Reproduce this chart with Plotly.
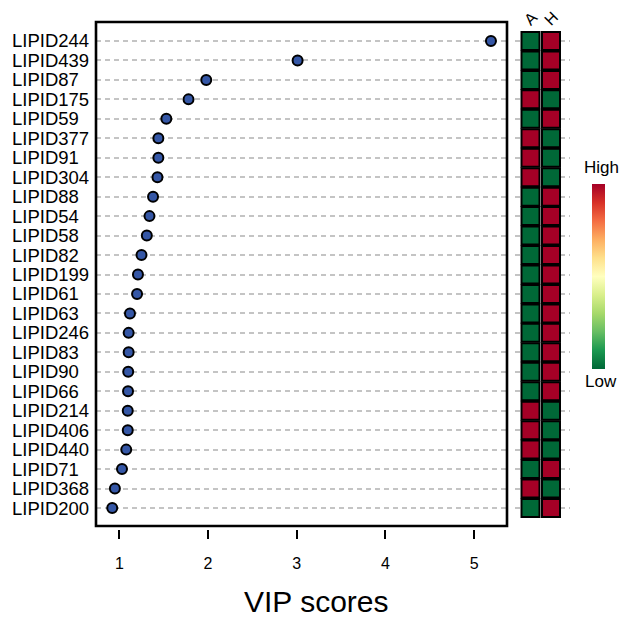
import plotly.graph_objects as go

# ---------------- data ----------------
lipids = ["LIPID244", "LIPID439", "LIPID87", "LIPID175", "LIPID59", "LIPID377",
          "LIPID91", "LIPID304", "LIPID88", "LIPID54", "LIPID58", "LIPID82",
          "LIPID199", "LIPID61", "LIPID63", "LIPID246", "LIPID83", "LIPID90",
          "LIPID66", "LIPID214", "LIPID406", "LIPID440", "LIPID71", "LIPID368",
          "LIPID200"]
vip_scores = [5.19, 3.01, 1.98, 1.78, 1.53, 1.44, 1.44, 1.43, 1.38, 1.34, 1.31,
              1.25, 1.21, 1.20, 1.12, 1.105, 1.105, 1.10, 1.098, 1.095, 1.095,
              1.078, 1.03, 0.95, 0.92]
groups = ["A", "H"]
# relative level per group (1 = high, 0 = low)
level_A = [0, 0, 0, 1, 0, 1, 1, 1, 0, 0, 0, 0, 0, 0, 0, 0, 0, 0, 0, 1, 1, 1, 0, 1, 0]
level_H = [1, 1, 1, 0, 1, 0, 0, 0, 1, 1, 1, 1, 1, 1, 1, 1, 1, 1, 1, 0, 0, 0, 1, 0, 1]
x_ticks = [1, 2, 3, 4, 5]

# ---------------- style ----------------
W, H = 619, 617
FONT = "Liberation Sans, Arial, Helvetica, sans-serif"
scale = ["#006837", "#1a9850", "#66bd63", "#a6d96a", "#d9ef8b", "#ffffbf",
         "#fee08b", "#fdae61", "#f46d43", "#d73027", "#a50026"]
colorscale = [[i / (len(scale) - 1), c] for i, c in enumerate(scale)]


def px_x(p):
    return p / W


def px_y(p):
    return 1 - p / H


fig = go.Figure()

# dot plot
fig.add_trace(go.Scatter(
    x=vip_scores, y=lipids, mode="markers",
    marker=dict(size=10, color="#3557a6", line=dict(color="black", width=2)),
    xaxis="x", yaxis="y", showlegend=False, hoverinfo="x+y",
))

# heat map cells
hx, hy, hz = [], [], []
for g, lv in zip(groups, [level_A, level_H]):
    for name, v in zip(lipids, lv):
        hx.append(g)
        hy.append(name)
        hz.append(v)
fig.add_trace(go.Scatter(
    x=hx, y=hy, mode="markers", xaxis="x2", yaxis="y", showlegend=False,
    marker=dict(symbol="square", size=18, color=hz, cmin=0, cmax=1,
                colorscale=colorscale, line=dict(color="black", width=2),
                showscale=True,
                colorbar=dict(thickness=13, thicknessmode="pixels",
                              len=185, lenmode="pixels",
                              x=px_x(592), xanchor="left",
                              y=px_y(276.5), yanchor="middle",
                              xpad=0, ypad=0, outlinewidth=0,
                              showticklabels=False, ticks="")),
    hoverinfo="x+y",
))

box_l, box_r, box_t, box_b = 96, 507, 22, 526
fig.update_layout(
    width=W, height=H,
    margin=dict(l=0, r=0, t=0, b=0),
    paper_bgcolor="white", plot_bgcolor="white",
    font=dict(family=FONT, color="black"),
    xaxis=dict(domain=[px_x(box_l), px_x(box_r)], range=[0.737, 5.371],
               anchor="free", position=px_y(529),
               showgrid=False, zeroline=False, showline=False,
               tickmode="array", tickvals=x_ticks, ticktext=[str(t) for t in x_ticks],
               ticks="outside", ticklen=9, tickwidth=2, tickcolor="black",
               ticklabelstandoff=11,
               tickfont=dict(size=16, family=FONT)),
    yaxis=dict(domain=[px_y(box_b), px_y(box_t)],
               type="category", categoryorder="array", categoryarray=lipids[::-1],
               range=[-0.925, 24.976], tickmode="linear", tick0=0, dtick=1,
               showgrid=True, gridcolor="#c4c4c4", gridwidth=1.5, griddash="5px,4px",
               zeroline=False, showline=False, ticks="", showticklabels=False),
    xaxis2=dict(domain=[px_x(515), px_x(570)], anchor="y",
                type="category", categoryorder="array", categoryarray=groups,
                range=[-0.756, 1.927], visible=False),
    shapes=[dict(type="rect", xref="x domain", yref="y domain",
                 x0=0, x1=1, y0=0, y1=1, line=dict(color="black", width=2.6))],
)

annotations = []
# left-aligned row labels placed on the category axis
for name in lipids:
    annotations.append(dict(x=px_x(10), xref="paper", y=name, yref="y",
                            text=name, showarrow=False,
                            font=dict(size=18.5, family=FONT),
                            xanchor="left", yanchor="middle"))
for i, g in enumerate(groups):
    annotations.append(dict(x=i, xref="x2", y=px_y(18), yref="paper",
                            text=g, showarrow=False, textangle=-45,
                            font=dict(size=16, family=FONT),
                            xanchor="center", yanchor="middle"))
annotations.append(dict(x=px_x(601), y=px_y(168), xref="paper", yref="paper",
                        text="High", showarrow=False,
                        font=dict(size=17, family=FONT),
                        xanchor="center", yanchor="middle"))
annotations.append(dict(x=px_x(601), y=px_y(381), xref="paper", yref="paper",
                        text="Low", showarrow=False,
                        font=dict(size=17, family=FONT),
                        xanchor="center", yanchor="middle"))
annotations.append(dict(x=px_x(316.5), y=px_y(601), xref="paper", yref="paper",
                        text="VIP scores", showarrow=False,
                        font=dict(size=30, family=FONT),
                        xanchor="center", yanchor="middle"))
fig.update_layout(annotations=annotations)

fig.write_html("out.html")
